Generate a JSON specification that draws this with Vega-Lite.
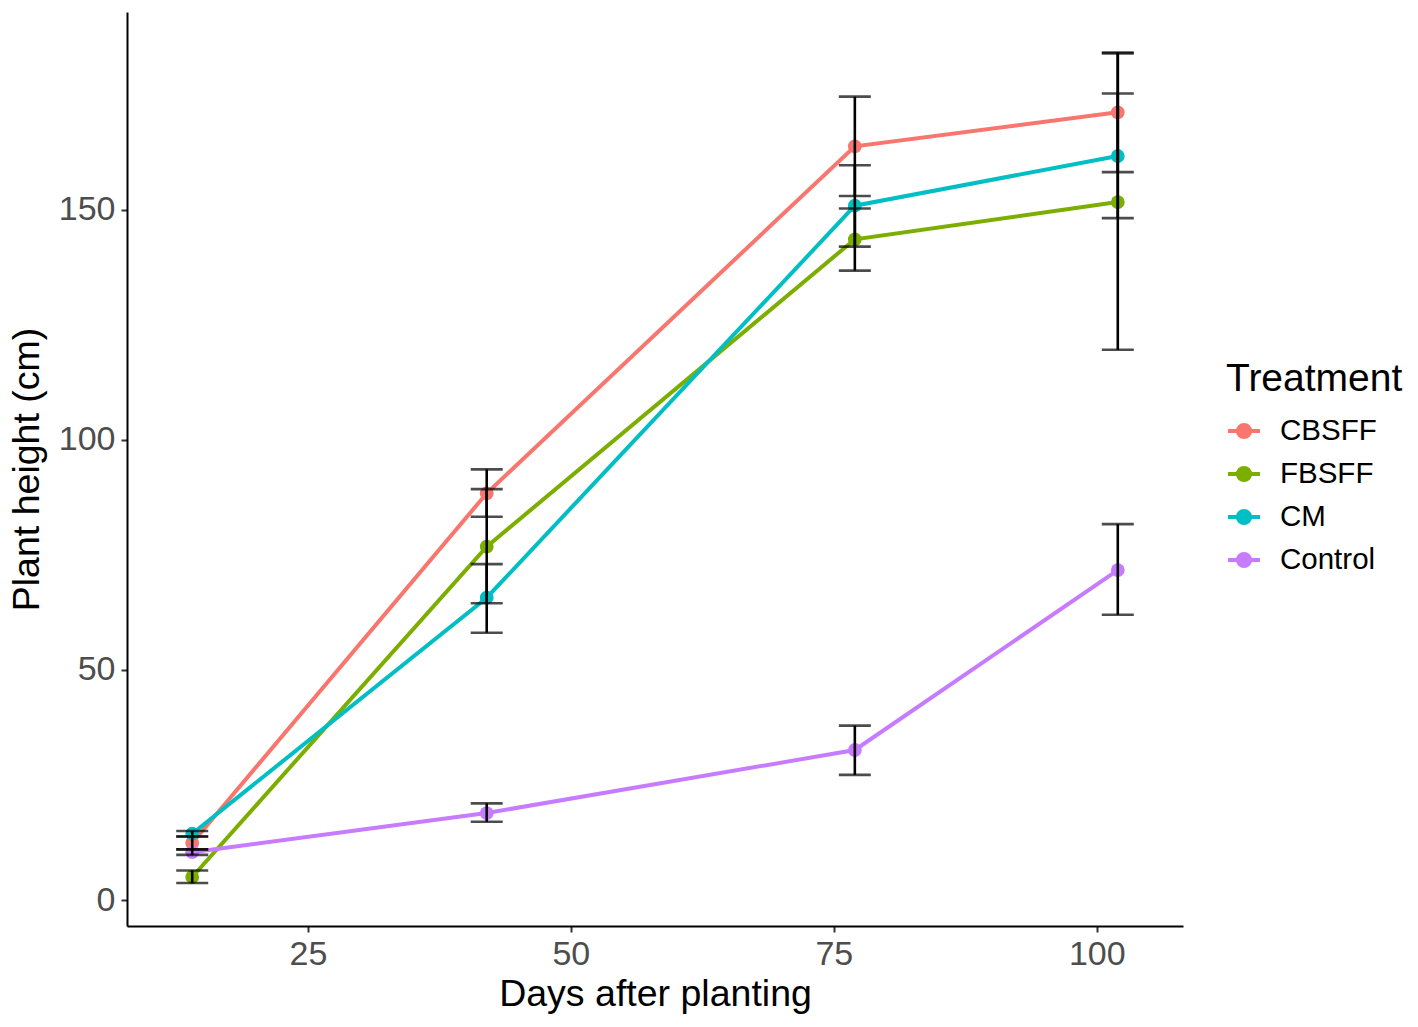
{
  "$schema": "https://vega.github.io/schema/vega-lite/v6.json",
  "autosize": {"type": "none"},
  "width": 1056,
  "height": 914,
  "padding": {"left": 127, "top": 12, "right": 235, "bottom": 101},
  "background": "white",
  "config": {
    "view": {"stroke": null},
    "font": "Liberation Sans",
    "axis": {
      "grid": false,
      "domainColor": "black",
      "domainWidth": 2,
      "tickColor": "#333333",
      "tickWidth": 2,
      "tickSize": 6,
      "labelFont": "Liberation Sans",
      "labelFontSize": 34,
      "labelColor": "#4D4D4D",
      "labelPadding": 5,
      "titleFont": "Liberation Sans",
      "titleFontSize": 37.5,
      "titleFontWeight": "normal",
      "titleColor": "black"
    },
    "legend": {
      "titleFont": "Liberation Sans",
      "labelFont": "Liberation Sans"
    }
  },
  "data": {
    "values": [
      {"treatment": "CBSFF", "day": 14, "height": 12.4, "lo": 11.0, "hi": 13.8},
      {"treatment": "CBSFF", "day": 42, "height": 88.4, "lo": 83.3, "hi": 93.6},
      {"treatment": "CBSFF", "day": 77, "height": 163.8, "lo": 153.0, "hi": 174.6},
      {"treatment": "CBSFF", "day": 102, "height": 171.2, "lo": 158.2, "hi": 184.2},
      {"treatment": "FBSFF", "day": 14, "height": 5.0, "lo": 3.7, "hi": 6.4},
      {"treatment": "FBSFF", "day": 42, "height": 76.8, "lo": 64.5, "hi": 89.3},
      {"treatment": "FBSFF", "day": 77, "height": 143.6, "lo": 136.8, "hi": 150.3},
      {"treatment": "FBSFF", "day": 102, "height": 151.7, "lo": 119.6, "hi": 184.0},
      {"treatment": "CM", "day": 14, "height": 14.4, "lo": 13.8, "hi": 15.0},
      {"treatment": "CM", "day": 42, "height": 65.7, "lo": 58.1, "hi": 73.0},
      {"treatment": "CM", "day": 77, "height": 150.9, "lo": 142.0, "hi": 159.7},
      {"treatment": "CM", "day": 102, "height": 161.7, "lo": 148.2, "hi": 175.3},
      {"treatment": "Control", "day": 14, "height": 10.4, "lo": 9.8, "hi": 11.0},
      {"treatment": "Control", "day": 42, "height": 18.9, "lo": 17.0, "hi": 21.0},
      {"treatment": "Control", "day": 77, "height": 32.6, "lo": 27.2, "hi": 37.9},
      {"treatment": "Control", "day": 102, "height": 71.7, "lo": 62.0, "hi": 81.7}
    ]
  },
  "encoding": {
    "x": {
      "field": "day", "type": "quantitative",
      "scale": {"domain": [7.8, 108.2], "nice": false, "zero": false},
      "axis": {"values": [25, 50, 75, 100], "title": "Days after planting", "titlePadding": 4}
    }
  },
  "layer": [
    {
      "mark": {"type": "line", "strokeWidth": 4},
      "encoding": {
        "y": {
          "field": "height", "type": "quantitative",
          "scale": {"domain": [-5.65, 193], "nice": false, "zero": false},
          "axis": {"values": [0, 50, 100, 150], "title": "Plant height (cm)", "titlePadding": 12, "labelPadding": 6}
        },
        "color": {
          "field": "treatment", "type": "nominal",
          "scale": {"domain": ["CBSFF", "FBSFF", "CM", "Control"], "range": ["#F8766D", "#7CAE00", "#00BFC4", "#C77CFF"]},
          "legend": {
            "title": "Treatment",
            "orient": "none",
            "legendX": 1099,
            "legendY": 348,
            "titleFontSize": 39,
            "titleFontWeight": "normal",
            "titleColor": "black",
            "titlePadding": 14,
            "labelFontSize": 29.5,
            "labelColor": "black",
            "labelOffset": 18,
            "symbolType": "M-1,0L1,0M0.38,0A0.38,0.38,0,1,1,-0.38,0A0.38,0.38,0,1,1,0.38,0Z",
            "symbolSize": 1024,
            "symbolStrokeWidth": 4,
            "rowPadding": 10
          }
        }
      }
    },
    {
      "mark": {"type": "point", "filled": true, "size": 190, "opacity": 1},
      "encoding": {
        "y": {"field": "height", "type": "quantitative"},
        "color": {"field": "treatment", "type": "nominal"}
      }
    },
    {
      "mark": {"type": "rule", "color": "black", "strokeWidth": 2.6},
      "encoding": {
        "y": {"field": "lo", "type": "quantitative"},
        "y2": {"field": "hi"},
        "detail": {"field": "treatment"}
      }
    },
    {
      "mark": {"type": "tick", "color": "black", "orient": "horizontal", "size": 32, "thickness": 2.6},
      "encoding": {
        "y": {"field": "lo", "type": "quantitative"},
        "detail": {"field": "treatment"}
      }
    },
    {
      "mark": {"type": "tick", "color": "black", "orient": "horizontal", "size": 32, "thickness": 2.6},
      "encoding": {
        "y": {"field": "hi", "type": "quantitative"},
        "detail": {"field": "treatment"}
      }
    }
  ]
}
